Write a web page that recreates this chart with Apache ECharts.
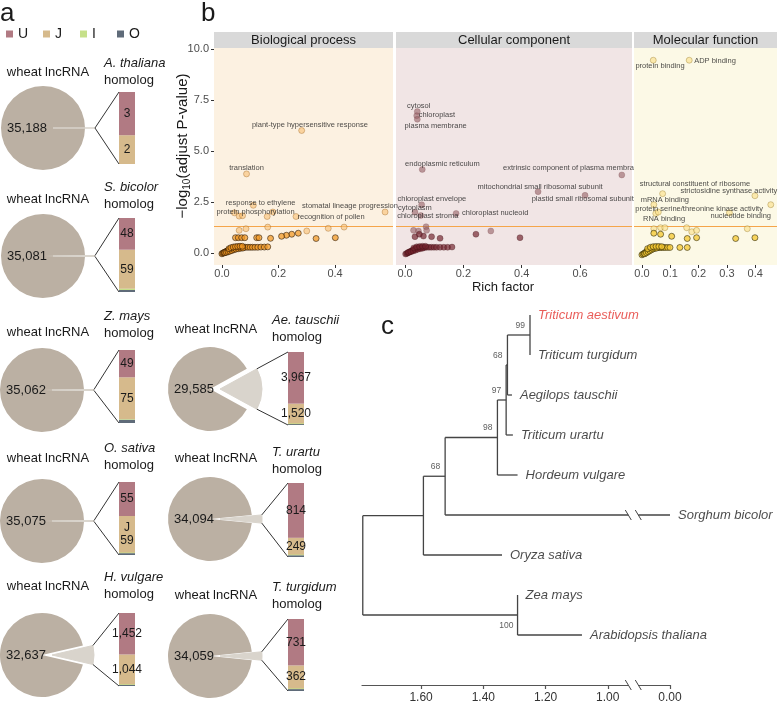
<!DOCTYPE html>
<html><head><meta charset="utf-8">
<script src="https://cdn.jsdelivr.net/npm/echarts@6/dist/echarts.min.js"></script>
<style>html,body{margin:0;padding:0;background:#fff}#c{width:780px;height:702px}</style>
</head><body><div id="c"></div>
<script>
// ================= DATA =================
// Panel a: wheat lncRNA conservation
const homologSpecies = ['A. thaliana','S. bicolor','Z. mays','Ae. tauschii','O. sativa','T. urartu','H. vulgare','T. turgidum'];
const wheatOnly = [35188, 35081, 35062, 29585, 35075, 34094, 32637, 34059];
const countU = [3, 48, 49, 3967, 55, 814, 1452, 731];
const countJ = [2, 59, 75, 1520, 59, 249, 1044, 362];
const countI = [0, 2, 1, 55, 1, 10, 22, 11];
const countO = [0, 3, 6, 66, 3, 26, 38, 30];
const jNote = ['', '', '', '', 'J', '', '', ''];
const classNames = ['U','J','I','O'];

// Panel b: GO enrichment (Rich factor, -log10 adjusted P)
const bpPoints = [[0.282,6.0],[0.087,3.87],[0.111,2.33],[0.044,1.96],[0.061,1.80],[0.073,1.82],[0.160,1.78],[0.180,2.0],[0.262,1.78],[0.577,2.0],
 [0.061,1.10],[0.085,1.18],[0.162,1.26],[0.300,1.07],[0.376,1.20],[0.432,1.26],[0.270,0.96],[0.247,0.91],[0.228,0.86],[0.211,0.81],[0.333,0.70],[0.401,0.74],[0.172,0.71],[0.123,0.74],[0.131,0.74],[0.048,0.74],[0.058,0.74],[0.070,0.74],[0.081,0.74],
 [0.000,-0.05],[0.003,-0.02],[0.006,0.00],[0.009,0.02],[0.012,0.04],[0.015,0.06],[0.018,0.08],[0.021,0.10],[0.024,0.12],[0.027,0.14],[0.030,0.16],[0.034,0.18],[0.038,0.20],[0.042,0.22],[0.047,0.24],[0.052,0.25],[0.058,0.26],[0.064,0.26],[0.070,0.26],[0.077,0.27],[0.084,0.27],[0.092,0.27],[0.100,0.27],[0.108,0.27],[0.117,0.27],[0.127,0.27],[0.138,0.28],[0.150,0.28],[0.162,0.29],
 [0.010,0.00],[0.016,0.02],[0.022,0.05],[0.028,0.08],[0.035,0.11],[0.043,0.15],[0.050,0.18],[0.058,0.20],[0.066,0.22],[0.074,0.23],[0.025,0.20],[0.032,0.25],[0.040,0.28],[0.048,0.30],[0.056,0.31],[0.064,0.32],[0.072,0.32]];
const ccPoints = [[0.042,6.93],[0.040,6.73],[0.042,6.55],[0.059,4.09],[0.743,3.82],[0.456,3.0],[0.617,2.82],[0.175,1.93],[0.057,2.36],[0.034,1.99],[0.054,1.83],
 [0.072,1.28],[0.029,1.10],[0.046,1.07],[0.074,1.10],[0.034,0.79],[0.063,0.82],[0.091,0.79],[0.120,0.71],[0.243,0.91],[0.294,1.07],[0.394,0.74],[0.049,0.91],
 [0.002,-0.06],[0.006,-0.03],[0.010,0.00],[0.014,0.03],[0.018,0.06],[0.022,0.09],[0.026,0.12],[0.030,0.16],[0.034,0.19],[0.038,0.22],[0.043,0.24],[0.048,0.25],[0.054,0.26],[0.060,0.26],[0.067,0.26],[0.074,0.27],[0.082,0.27],[0.090,0.27],[0.099,0.27],[0.108,0.27],[0.120,0.27],[0.133,0.27],[0.146,0.27],[0.161,0.28],
 [0.012,0.02],[0.020,0.05],[0.028,0.09],[0.036,0.13],[0.044,0.17],[0.052,0.20],[0.060,0.22],[0.030,0.24],[0.040,0.29],[0.050,0.31],[0.060,0.32],[0.070,0.32]];
const mfPoints = [[0.040,9.45],[0.167,9.45],[0.073,2.90],[0.399,2.80],[0.455,2.36],[0.042,2.36],[0.049,1.93],[0.058,2.0],[0.309,1.96],
 [0.042,1.18],[0.066,1.23],[0.081,1.23],[0.042,0.96],[0.066,0.91],[0.105,0.81],[0.158,1.23],[0.176,1.03],[0.193,1.10],[0.160,0.70],[0.193,0.74],[0.372,1.18],[0.331,0.70],[0.399,0.74],
 [0.000,-0.10],[0.004,-0.06],[0.008,-0.03],[0.012,0.01],[0.016,0.05],[0.020,0.09],[0.024,0.14],[0.028,0.18],[0.032,0.21],[0.036,0.23],[0.041,0.25],[0.046,0.26],[0.051,0.26],[0.057,0.26],[0.063,0.26],[0.069,0.26],[0.076,0.26],[0.083,0.26],[0.091,0.26],[0.099,0.26],[0.134,0.26],[0.160,0.26],
 [0.010,-0.05],[0.016,0.00],[0.022,0.05],[0.028,0.10],[0.034,0.15],[0.040,0.19],[0.046,0.22],[0.052,0.23],[0.020,0.20],[0.030,0.27],[0.040,0.30],[0.050,0.31],[0.060,0.31],[0.070,0.30]];
const bpLabels = [[0.311,6.26,'plant-type hypersensitive response'],[0.087,4.14,'translation'],[0.137,2.44,'response to ethylene'],[0.119,2.0,'protein phosphorylation'],[0.453,2.3,'stomatal lineage progression'],[0.386,1.78,'recognition of pollen']];
const ccLabels = [[0.047,7.22,'cytosol'],[0.109,6.75,'chloroplast'],[0.105,6.23,'plasma membrane'],[0.128,4.38,'endoplasmic reticulum'],[0.56,4.14,'extrinsic component of plasma membra'],[0.463,3.22,'mitochondrial small ribosomal subunit'],[0.609,2.64,'plastid small ribosomal subunit'],[0.309,1.94,'chloroplast nucleoid'],[0.092,2.65,'chloroplast envelope'],[0.034,2.2,'cytoplasm'],[0.078,1.83,'chloroplast stroma']];
const mfLabels = [[0.064,9.19,'protein binding'],[0.258,9.42,'ADP binding'],[0.187,3.36,'structural constituent of ribosome'],[0.307,3.04,'strictosidine synthase activity'],[0.081,2.57,'mRNA binding'],[0.202,2.17,'protein serine/threonine kinase activity'],[0.349,1.83,'nucleotide binding'],[0.078,1.64,'RNA binding']];
const bpTicks = [0, 0.2, 0.4];
const ccTicks = [0, 0.2, 0.4, 0.6];
const mfTicks = [0, 0.1, 0.2, 0.3, 0.4];
const pTicks = [0, 2.5, 5, 7.5, 10];
const sigCut = 1.3;

// Panel c: phylogenetic tree
const treeTips = ['Triticum aestivum','Triticum turgidum','Aegilops tauschii','Triticum urartu','Hordeum vulgare','Sorghum bicolor','Oryza sativa','Zea mays','Arabidopsis thaliana'];
const tipDepth = [1.25, 1.25, 1.308, 1.305, 1.29, 0.80, 1.34, 1.29, 1.083];
const nodeDepth = [1.25, 1.3225, 1.3267, 1.3547, 1.5228, 1.5926, 1.29, 1.7875];
const nodeChildren = [['t0','t1'],['n0','t2'],['n1','t3'],['n2','t4'],['n3','t5'],['n4','t6'],['t7','t8'],['n5','n6']];
const nodeSupport = [99, 68, 97, 98, 68, null, 100, null];
const treeTickValues = [1.60, 1.40, 1.20, 1.00, 0.80];
const treeTickLabels = ['1.60','1.40','1.20','1.00','0.00'];
const breakAt = 0.918;

// ================= LAYOUT / STYLE =================
const FONT = '"Liberation Sans", Arial, Helvetica, sans-serif';
const COLORS = {U:'#b17a83', J:'#d6ba8c', I:'#c6e08a', O:'#5f6b79'};
const PIE_MAIN = '#bbb0a3', PIE_HOM = '#d9d4cc';
const R = 42, OFF = 10, BARW = 16;
const slots = [
 {cx:43, cy:128, bx:119, bt:92,  bb:164, wy:72,  sy:63},
 {cx:43, cy:256, bx:119, bt:218, bb:292, wy:199, sy:187},
 {cx:42, cy:390, bx:119, bt:350, bb:423, wy:332, sy:316},
 {cx:210,cy:389, bx:288, bt:352, bb:425, wy:329, sy:320},
 {cx:42, cy:521, bx:119, bt:482, bb:555, wy:458, sy:448},
 {cx:210,cy:519, bx:288, bt:483, bb:557, wy:458, sy:452},
 {cx:42, cy:655, bx:119, bt:613, bb:686, wy:586, sy:577},
 {cx:210,cy:656, bx:288, bt:619, bb:691, wy:595, sy:587}
];
const legendLeft = [6, 43, 80, 117];
const fmt = v => v.toLocaleString('en-US');

const grids = [], xAxes = [], yAxes = [], series = [], graphics = [];
const txt = (x, y, text, o) => graphics.push(Object.assign({type:'text', x, y, z:20, silent:true,
  style: Object.assign({text, fill:'#1a1a1a', fontSize:13, fontFamily:FONT, align:'left', verticalAlign:'middle'}, o || {})}));

// panel letters
txt(0, 14, 'a', {fontSize:26});
txt(201, 14, 'b', {fontSize:26});
txt(381, 327, 'c', {fontSize:26});

// ---------- Panel a ----------
slots.forEach((s, i) => {
  const hom = countU[i] + countJ[i] + countI[i] + countO[i];
  const total = hom + wheatOnly[i];
  const halfDeg = hom / total * 180;
  series.push({type:'pie', center:[s.cx, s.cy], radius:R, startAngle:360 - halfDeg, clockwise:true,
    selectedMode:'single', selectedOffset:OFF, silent:true, animation:false,
    label:{show:false}, labelLine:{show:false}, emphasis:{disabled:true},
    data:[
      {value:wheatOnly[i], name:'wheat', itemStyle:{color:PIE_MAIN},
       label:{show:true, position:'center', padding:[0,32,0,0], formatter:fmt(wheatOnly[i]), fontSize:13, color:'#1a1a1a', fontFamily:FONT}},
      {value:hom, name:'homolog', selected:true, itemStyle:{color:PIE_HOM, borderColor:PIE_HOM, borderWidth:1}}
    ]});
  const gi = grids.length;
  grids.push({left:s.bx, top:s.bt, width:BARW, height:s.bb - s.bt, containLabel:false, outerBoundsMode:'none'});
  xAxes.push({gridIndex:gi, type:'category', data:['h'], show:false});
  yAxes.push({gridIndex:gi, type:'value', min:0, max:hom, show:false});
  const vals = {U:countU[i], J:countJ[i], I:countI[i], O:countO[i]};
  ['O','I','J','U'].forEach(k => {
    const lab = (k === 'U' || k === 'J') ? {show:true, position:'inside', fontSize:12, color:'#1a1a1a', fontFamily:FONT,
      formatter: () => (k === 'J' && jNote[i] ? jNote[i] + '\n' : '') + fmt(vals[k]), lineHeight:13} : {show:false};
    series.push({type:'bar', name:k, xAxisIndex:gi, yAxisIndex:gi, stack:'s' + i, barWidth:'100%', silent:true,
      data:[vals[k] ? vals[k] : '-'], itemStyle:{color:COLORS[k]}, label:lab, barMinHeight:(k==='I'||k==='O') ? 1.5 : 0});
  });
  // bracket lines from exploded wedge to bar
  const h = Math.PI * hom / total;
  const ox = s.cx + OFF + R * Math.cos(h);
  graphics.push({type:'polyline', z:15, silent:true, shape:{points:[[ox, s.cy - R * Math.sin(h)], [s.bx, s.bt]]}, style:{stroke:'#333', lineWidth:1, fill:null}});
  graphics.push({type:'polyline', z:15, silent:true, shape:{points:[[ox, s.cy + R * Math.sin(h)], [s.bx, s.bb]]}, style:{stroke:'#333', lineWidth:1, fill:null}});
  const left = s.cx < 100;
  txt(left ? 48 : 216, s.wy, 'wheat lncRNA', {align:'center'});
  txt(left ? 104 : 272, s.sy, homologSpecies[i], {fontStyle:'italic'});
  txt(left ? 104 : 272, s.sy + 17, 'homolog');
});

// ---------- Panel b ----------
const bPanels = [
 {title:'Biological process', pts:bpPoints, labels:bpLabels, ticks:bpTicks, left:214, width:179, xmin:-0.028, xmax:0.605, bg:'#fcf1e1',
  dark:{color:'rgba(242,152,35,0.9)', borderColor:'rgba(25,12,0,0.85)', borderWidth:0.8},
  light:{color:'rgba(248,192,115,0.75)', borderColor:'rgba(150,90,20,0.65)', borderWidth:0.7}},
 {title:'Cellular component', pts:ccPoints, labels:ccLabels, ticks:ccTicks, left:396, width:236, xmin:-0.031, xmax:0.778, bg:'#f1e5e5',
  dark:{color:'rgba(115,35,45,0.85)', borderColor:'rgba(50,10,15,0.6)', borderWidth:0.6},
  light:{color:'rgba(150,95,100,0.75)', borderColor:'rgba(110,60,65,0.5)', borderWidth:0.6}},
 {title:'Molecular function', pts:mfPoints, labels:mfLabels, ticks:mfTicks, left:634, width:143, xmin:-0.028, xmax:0.477, bg:'#fcf9e6',
  dark:{color:'rgba(245,200,50,0.95)', borderColor:'rgba(30,25,0,0.85)', borderWidth:0.8},
  light:{color:'rgba(250,226,145,0.85)', borderColor:'rgba(140,110,30,0.65)', borderWidth:0.7}}
];
const B_TOP = 48, B_H = 217;
bPanels.forEach((p, j) => {
  const gi = grids.length;
  grids.push({left:p.left, top:B_TOP, width:p.width, height:B_H, show:true, backgroundColor:p.bg, borderWidth:0, containLabel:false, outerBoundsMode:'none'});
  xAxes.push({gridIndex:gi, type:'value', min:p.xmin, max:p.xmax,
    axisLine:{show:false, onZero:false}, splitLine:{show:false},
    axisTick:{show:true, customValues:p.ticks, length:3, lineStyle:{color:'#333'}},
    axisLabel:{customValues:p.ticks, formatter:v => v.toFixed(1), fontSize:11, color:'#4d4d4d', margin:3, fontFamily:FONT}});
  yAxes.push({gridIndex:gi, type:'value', min:-0.6, max:10.05,
    axisLine:{show:false, onZero:false}, splitLine:{show:false},
    axisTick:{show:j === 0, customValues:pTicks, length:3, lineStyle:{color:'#333'}},
    axisLabel:{show:j === 0, customValues:pTicks, formatter:v => v.toFixed(1), fontSize:11, color:'#4d4d4d', margin:5, fontFamily:FONT}});
  series.push({type:'scatter', xAxisIndex:gi, yAxisIndex:gi, symbolSize:6, silent:true, z:3,
    data:p.pts.map(v => ({value:v, itemStyle: v[1] < 1 ? p.dark : p.light})),
    markLine:{silent:true, symbol:['none','none'], label:{show:false}, z:2,
      lineStyle:{color:'#f5a54a', width:1.2, type:'solid'}, data:[{yAxis:sigCut}]}});
  series.push({type:'scatter', xAxisIndex:gi, yAxisIndex:gi, symbolSize:0, silent:true, z:5,
    data:p.labels.map(l => ({value:[l[0], l[1]], name:l[2]})),
    label:{show:true, position:'inside', formatter:'{b}', fontSize:7.5, color:'#1a1a1a', fontFamily:FONT}});
  graphics.push({type:'rect', silent:true, shape:{x:p.left, y:32, width:p.width, height:B_TOP - 32}, style:{fill:'#d9d9d9'}});
  txt(p.left + p.width / 2, 40, p.title, {align:'center', fontSize:13});
});
txt(503, 287, 'Rich factor', {align:'center', fontSize:13});
graphics.push({type:'text', x:183, y:146, rotation:Math.PI / 2, silent:true, z:20,
  style:{text:'{a|−log}{s|10}{a|(adjust P-value)}', align:'center', verticalAlign:'middle', fill:'#1a1a1a',
    rich:{a:{fontSize:15, fontFamily:FONT, fill:'#1a1a1a'}, s:{fontSize:10, fontFamily:FONT, fill:'#1a1a1a', padding:[8,0,0,0]}}}});

// ---------- Panel c ----------
const nodeY = [];
const ref = id => {
  const k = +id.slice(1);
  return id[0] === 't' ? {x:tipDepth[k], y:k} : {x:nodeDepth[k], y:nodeY[k]};
};
const segs = [];
nodeChildren.forEach((ch, k) => {
  const a = ref(ch[0]), b = ref(ch[1]);
  nodeY[k] = (a.y + b.y) / 2;
  segs.push([nodeDepth[k], a.y, nodeDepth[k], b.y]);
  [a, b].forEach(c => { if (Math.abs(c.x - nodeDepth[k]) > 1e-6) segs.push([nodeDepth[k], c.y, c.x, c.y]); });
});
const tgi = grids.length;
grids.push({left:362, top:315, width:308, height:370, containLabel:false, outerBoundsMode:'none'});
xAxes.push({gridIndex:tgi, type:'value', min:0.8, max:1.79, inverse:true,
  axisLine:{show:true, onZero:false, lineStyle:{color:'#555', width:1.2}}, splitLine:{show:false},
  axisTick:{show:true, customValues:treeTickValues, length:4, lineStyle:{color:'#555', width:1.2}},
  axisLabel:{customValues:treeTickValues, fontSize:12, color:'#333', margin:7, fontFamily:FONT,
    formatter:v => { const k = treeTickValues.findIndex(t => Math.abs(t - v) < 1e-6); return k >= 0 ? treeTickLabels[k] : ''; }}});
yAxes.push({gridIndex:tgi, type:'value', min:0, max:9.25, inverse:true, show:false});
series.push({type:'custom', xAxisIndex:tgi, yAxisIndex:tgi, silent:true, clip:false, z:3, data:segs,
  encode:{x:[0,2], y:[1,3]},
  renderItem:(params, api) => {
    const p1 = api.coord([api.value(0), api.value(1)]), p2 = api.coord([api.value(2), api.value(3)]);
    return {type:'line', shape:{x1:p1[0], y1:p1[1], x2:p2[0], y2:p2[1]}, style:{stroke:'#444', lineWidth:1.3}};
  }});
series.push({type:'custom', xAxisIndex:tgi, yAxisIndex:tgi, silent:true, clip:false, z:6,
  data:[[breakAt, 5], [breakAt, 9.25]],
  renderItem:(params, api) => {
    const c = api.coord([api.value(0), api.value(1)]);
    return {type:'group', children:[
      {type:'rect', shape:{x:c[0] - 5, y:c[1] - 3, width:10, height:6}, style:{fill:'#fff'}},
      {type:'line', shape:{x1:c[0] - 8, y1:c[1] - 5, x2:c[0] - 2, y2:c[1] + 5}, style:{stroke:'#444', lineWidth:1}},
      {type:'line', shape:{x1:c[0] + 2, y1:c[1] - 5, x2:c[0] + 8, y2:c[1] + 5}, style:{stroke:'#444', lineWidth:1}}
    ]};
  }});
series.push({type:'scatter', xAxisIndex:tgi, yAxisIndex:tgi, symbolSize:0, silent:true, z:5,
  data:treeTips.map((n, i) => ({value:[tipDepth[i], i], name:n, label:{color: i === 0 ? '#e3342f' : '#1a1a1a'}})),
  label:{show:true, position:'right', distance:8, formatter:'{b}', fontSize:13, fontStyle:'italic', fontFamily:FONT}});
const supData = [];
nodeSupport.forEach((s, k) => {
  if (s === null) return;
  const below = k === 6;
  supData.push({value:[nodeDepth[k], nodeY[k]], name:String(s),
    label:{position: below ? [-4, 6] : [-5, -5], align:'right', verticalAlign: below ? 'top' : 'bottom'}});
});
series.push({type:'scatter', xAxisIndex:tgi, yAxisIndex:tgi, symbolSize:0, silent:true, z:5, data:supData,
  label:{show:true, formatter:'{b}', fontSize:8.5, color:'#333', fontFamily:FONT}});

// ================= CHART =================
const chart = echarts.init(document.getElementById('c'), null, {renderer:'canvas', width:780, height:702});
chart.setOption({
  animation:false,
  backgroundColor:'#fff',
  textStyle:{fontFamily:FONT},
  legend: classNames.map((n, k) => ({data:[n], left:legendLeft[k], top:27, icon:'rect', itemWidth:7, itemHeight:7,
    padding:0, selectedMode:false, textStyle:{fontSize:14, color:'#1a1a1a', fontFamily:FONT}})),
  grid:grids, xAxis:xAxes, yAxis:yAxes, series:series, graphic:graphics
});
</script></body></html>
